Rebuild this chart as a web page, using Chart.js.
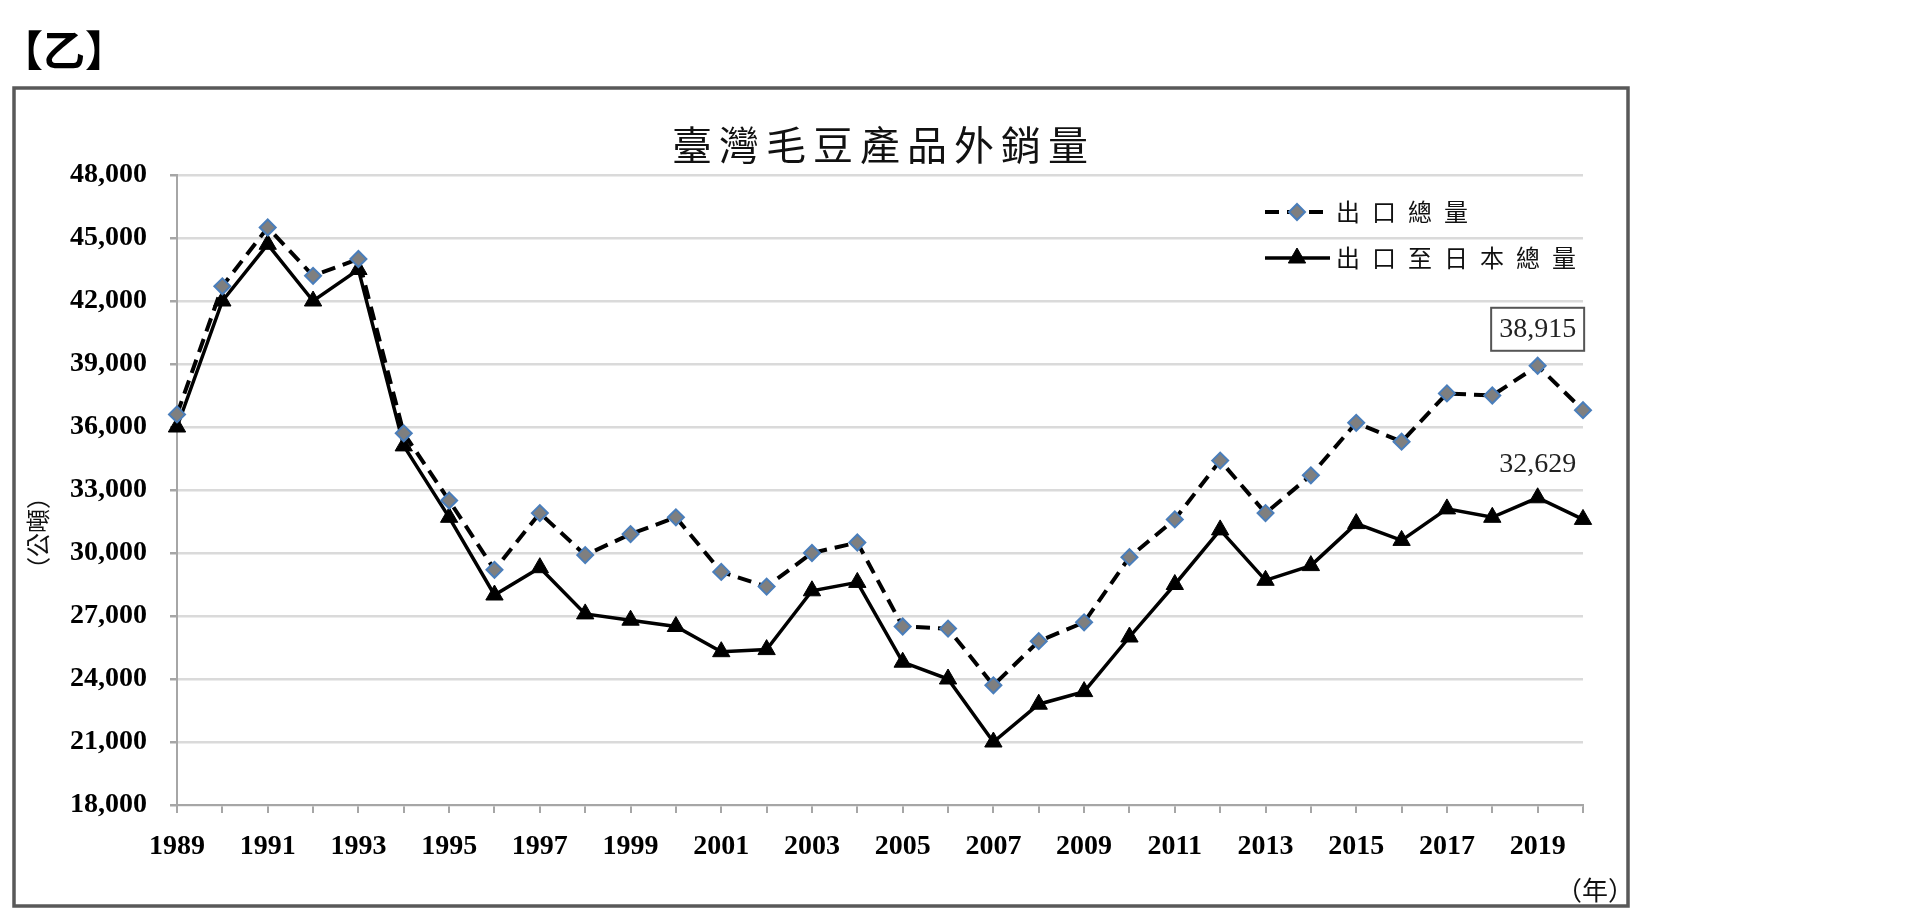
<!DOCTYPE html>
<html>
<head>
<meta charset="utf-8">
<script src="https://cdn.jsdelivr.net/npm/chart.js@4/dist/chart.umd.min.js"></script>
<style>
  html, body { margin: 0; padding: 0; background: #fff; overflow: hidden; }
  canvas { display: block; }
</style>
</head>
<body>
<canvas id="soyChart" width="1914" height="921"></canvas>
<script>
"use strict";
const years = ["1989","1990","1991","1992","1993","1994","1995","1996","1997","1998","1999","2000",
  "2001","2002","2003","2004","2005","2006","2007","2008","2009","2010","2011","2012",
  "2013","2014","2015","2016","2017","2018","2019","2020"];
const totalExport = [36600, 42700, 45500, 43200, 44000, 35700, 32500, 29200, 31900, 29900, 30900, 31700,
  29100, 28400, 30000, 30500, 26500, 26400, 23700, 25800, 26700, 29800, 31600, 34400,
  31900, 33700, 36200, 35300, 37600, 37500, 38915, 36800];
const japanExport = [36000, 42000, 44700, 42000, 43500, 35100, 31700, 28000, 29300, 27100, 26800, 26500,
  25300, 25400, 28200, 28600, 24800, 24000, 21000, 22800, 23400, 26000, 28500, 31100,
  28700, 29400, 31400, 30600, 32100, 31700, 32629, 31600];
const seriesNames = ["出口總量", "出口至日本總量"];
const yTicks = { min: 18000, max: 48000, step: 3000 };
const chartTitle = "臺灣毛豆產品外銷量";
const tagText = ["【", "乙", "】"];
const yUnit = "（公噸）";
const xUnit = "（年）";
const labelIndex = 30; // 2019

const SERIF = '"Liberation Serif", "Times New Roman", serif';
const CJK = '"Noto Sans CJK TC", "Noto Sans CJK SC", sans-serif';

function spacedText(ctx, text, x, y, step) {
  [...text].forEach((ch, i) => ctx.fillText(ch, x + i * step, y));
}

const extras = {
  id: "extras",
  beforeDraw(chart) {
    const ctx = chart.ctx;
    ctx.save();
    ctx.fillStyle = "#fff";
    ctx.fillRect(0, 0, chart.width, chart.height);
    ctx.restore();
  },
  afterDatasetsDraw(chart) {
    const ctx = chart.ctx;
    const p0 = chart.getDatasetMeta(0).data[labelIndex];
    const p1 = chart.getDatasetMeta(1).data[labelIndex];
    ctx.save();
    ctx.font = "28px " + SERIF;
    ctx.textAlign = "center";
    ctx.textBaseline = "middle";
    const t0 = totalExport[labelIndex].toLocaleString("en-US");
    const w0 = ctx.measureText(t0).width + 16;
    const cy0 = p0.y - 37;
    ctx.fillStyle = "#fff";
    ctx.fillRect(p0.x - w0 / 2, cy0 - 21, w0, 43);
    ctx.strokeStyle = "#555";
    ctx.lineWidth = 2;
    ctx.strokeRect(p0.x - w0 / 2, cy0 - 21, w0, 43);
    ctx.fillStyle = "#222";
    ctx.fillText(t0, p0.x, cy0 + 1);
    ctx.fillText(japanExport[labelIndex].toLocaleString("en-US"), p1.x, p1.y - 33);
    ctx.restore();
  },
  afterDraw(chart) {
    const ctx = chart.ctx;
    const a = chart.chartArea;
    ctx.save();
    // outer frame
    ctx.strokeStyle = "#595959";
    ctx.lineWidth = 3.5;
    ctx.strokeRect(14, 88, 1614, 818);

    // tag
    ctx.fillStyle = "#000";
    ctx.font = "bold 42px " + CJK;
    ctx.textAlign = "center";
    ctx.textBaseline = "middle";
    ctx.fillText(tagText[0], 22, 50);
    ctx.fillText(tagText[1], 64, 50);
    ctx.fillText(tagText[2], 106, 50);

    // title
    ctx.font = "40px " + CJK;
    ctx.textAlign = "left";
    ctx.fillStyle = "#111";
    const step = 47;
    const tw = (chartTitle.length - 1) * step + 40;
    spacedText(ctx, chartTitle, (a.left + a.right) / 2 - tw / 2, a.top - 30, step);

    // y unit
    ctx.save();
    ctx.translate(38, a.top + 358);
    ctx.rotate(-Math.PI / 2);
    ctx.font = "24px " + CJK;
    ctx.textAlign = "center";
    ctx.fillText(yUnit, 0, 0);
    ctx.restore();

    // x unit
    ctx.font = "26px " + CJK;
    ctx.textAlign = "center";
    ctx.fillText(xUnit, a.right + 12, a.bottom + 85);

    // legend
    const lx = a.right - 318;
    const rows = [a.top + 37, a.top + 83];
    chart.data.datasets.forEach((ds, i) => {
      const y = rows[i];
      ctx.save();
      ctx.strokeStyle = ds.borderColor;
      ctx.lineWidth = ds.borderWidth;
      ctx.setLineDash(ds.borderDash || []);
      ctx.beginPath();
      ctx.moveTo(lx, y);
      ctx.lineTo(lx + 65, y);
      ctx.stroke();
      ctx.restore();
      ctx.save();
      ctx.fillStyle = ds.pointBackgroundColor;
      ctx.strokeStyle = ds.pointBorderColor;
      ctx.lineWidth = ds.pointBorderWidth;
      Chart.helpers.drawPoint(ctx, { pointStyle: ds.pointStyle, radius: ds.pointRadius, borderWidth: ds.pointBorderWidth }, lx + 32, y);
      ctx.restore();
      ctx.font = "24px " + CJK;
      ctx.fillStyle = "#111";
      ctx.textAlign = "left";
      ctx.textBaseline = "middle";
      spacedText(ctx, ds.label, lx + 71, y, 36);
    });
    ctx.restore();
  }
};

new Chart(document.getElementById("soyChart").getContext("2d"), {
  type: "line",
  data: {
    labels: years,
    datasets: [
      { label: seriesNames[0], data: totalExport, borderColor: "#000", borderWidth: 4, borderDash: [14, 8],
        pointStyle: "rectRot", pointRadius: 8, pointBackgroundColor: "#7f7f7f", pointBorderColor: "#4a7ebb",
        pointBorderWidth: 2, tension: 0 },
      { label: seriesNames[1], data: japanExport, borderColor: "#000", borderWidth: 3.5,
        pointStyle: "triangle", pointRadius: 10, pointBackgroundColor: "#000", pointBorderColor: "#000",
        pointBorderWidth: 1, tension: 0 }
    ]
  },
  options: {
    responsive: false,
    animation: false,
    devicePixelRatio: 1,
    layout: { padding: { left: 60, top: 175, right: 331, bottom: 56 } },
    plugins: { legend: { display: false }, tooltip: { enabled: false } },
    scales: {
      x: {
        afterFit: s => { s.height = 60; },
        grid: { drawOnChartArea: false, tickLength: 8, color: "#a6a6a6", lineWidth: 2 },
        border: { color: "#a6a6a6", width: 2 },
        ticks: {
          autoSkip: false, maxRotation: 0, padding: 17, color: "#000",
          font: { family: SERIF, size: 28, weight: "bold" },
          callback: (v, i) => (i % 2 === 0 ? years[i] : "")
        }
      },
      y: {
        min: yTicks.min, max: yTicks.max,
        afterFit: s => { s.width = 117; },
        grid: { color: "#dadada", lineWidth: 2.5, tickLength: 7, tickColor: "#a6a6a6" },
        border: { color: "#a6a6a6", width: 2 },
        ticks: {
          stepSize: yTicks.step, padding: 23, color: "#000",
          font: { family: SERIF, size: 28, weight: "bold" },
          callback: v => Number(v).toLocaleString("en-US")
        }
      }
    }
  },
  plugins: [extras]
});
</script>
</body>
</html>
